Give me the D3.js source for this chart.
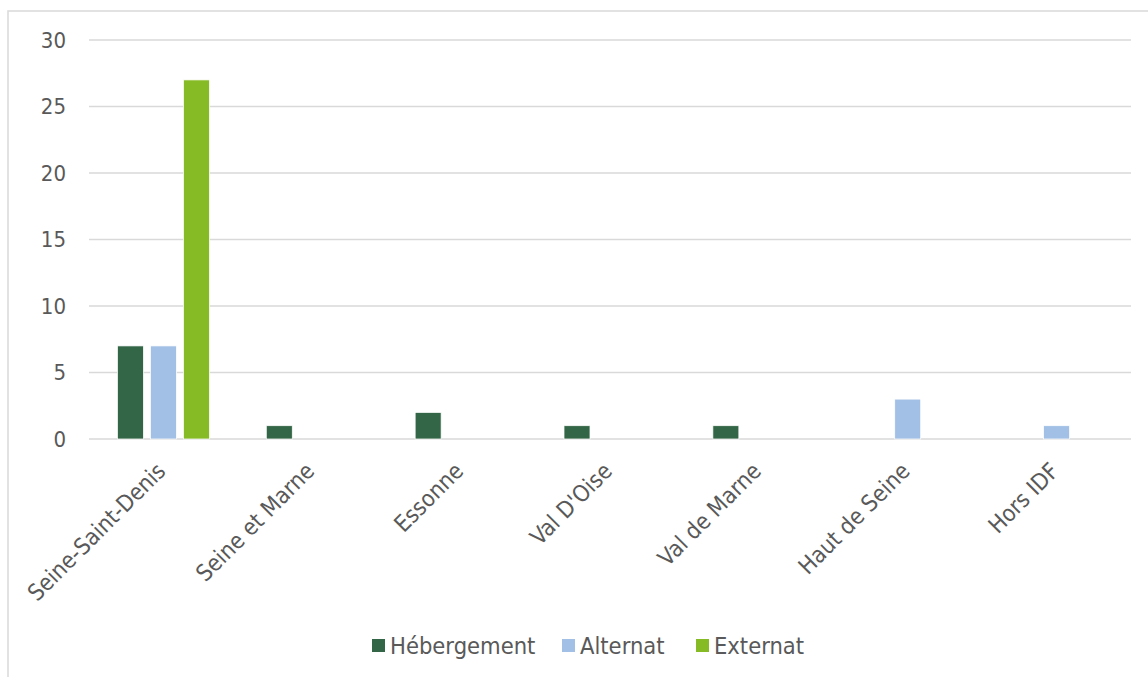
<!DOCTYPE html>
<html>
<head>
<meta charset="utf-8">
<script src="https://cdn.jsdelivr.net/npm/d3@7"></script>
<style>
  html, body { margin: 0; padding: 0; background: #fff; }
  svg { display: block; }
  text { font-family: "DejaVu Sans Condensed", "Open Sans", sans-serif; fill: #595959; }
</style>
</head>
<body>
<svg id="chart" width="1148" height="677"></svg>
<script>
const categories = ["Seine-Saint-Denis", "Seine et Marne", "Essonne", "Val D'Oise", "Val de Marne", "Haut de Seine", "Hors IDF"];
const seriesNames = ["Hébergement", "Alternat", "Externat"];
const hebergement = [7, 1, 2, 1, 1, 0, 0];
const alternat = [7, 0, 0, 0, 0, 3, 1];
const externat = [27, 0, 0, 0, 0, 0, 0];
const yTicks = [0, 5, 10, 15, 20, 25, 30];
const colors = ["#336647", "#A2C0E5", "#86BB25"];

(function () {
const seriesValues = [hebergement, alternat, externat];
const svg = d3.select("#chart");
const W = 1148, H = 677;

// outer frame
svg.append("rect").attr("x", 8).attr("y", 11).attr("width", W + 20).attr("height", H + 20)
  .attr("fill", "#fff").attr("stroke", "#d9d9d9").attr("stroke-width", 1.5);

const mLeft = 89, mRight = 1131, mTop = 40, mBottom = 439;
const y = d3.scaleLinear().domain([0, 30]).range([mBottom, mTop]);
const x0 = d3.scaleBand().domain(categories).range([mLeft, mRight]).padding(0);
const groupW = 92;
const x1 = d3.scaleBand().domain(seriesNames).range([0, groupW]).paddingInner(7 / 33).paddingOuter(0);

// gridlines
svg.append("g").selectAll("line").data(yTicks).join("line")
  .attr("x1", mLeft).attr("x2", mRight)
  .attr("y1", d => y(d)).attr("y2", d => y(d))
  .attr("stroke", "#d9d9d9").attr("stroke-width", 1.5);

// y labels
svg.append("g").selectAll("text").data(yTicks).join("text")
  .attr("x", 66).attr("y", d => y(d)).attr("dy", "0.36em")
  .attr("text-anchor", "end").attr("font-size", 22)
  .text(d => d);

// bars
const barData = [];
categories.forEach((c, i) => {
  seriesNames.forEach((s, j) => {
    const v = seriesValues[j][i];
    if (v > 0) barData.push({ c, s, v, j });
  });
});
svg.append("g").selectAll("rect").data(barData).join("rect")
  .attr("x", d => x0(d.c) + (x0.bandwidth() - groupW) / 2 + x1(d.s))
  .attr("y", d => y(d.v))
  .attr("width", x1.bandwidth())
  .attr("height", d => y(0) - y(d.v))
  .attr("fill", d => colors[d.j])
  .attr("stroke", "#fff").attr("stroke-width", 0.75);

// x labels
svg.append("g").selectAll("text").data(categories).join("text")
  .attr("text-anchor", "end").attr("font-size", 23)
  .attr("transform", d => `translate(${x0(d) + x0.bandwidth() / 2 - 8},${mBottom + 22}) rotate(-45)`)
  .attr("dy", "0.71em")
  .text(d => d);

// legend
const legendItems = [
  { name: seriesNames[0], x: 372 },
  { name: seriesNames[1], x: 562 },
  { name: seriesNames[2], x: 696 }
];
const lg = svg.append("g");
legendItems.forEach((it, i) => {
  lg.append("rect").attr("x", it.x).attr("y", 639).attr("width", 13).attr("height", 13).attr("fill", colors[i]);
  lg.append("text").attr("x", it.x + 18).attr("y", 645.5).attr("dy", "0.36em")
    .attr("font-size", 23.5).text(it.name);
});
})();
</script>
</body>
</html>
